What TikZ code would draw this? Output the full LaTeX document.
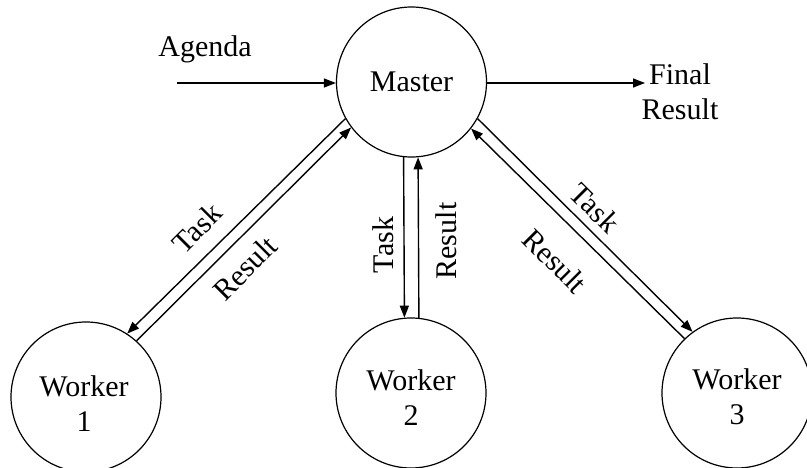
\documentclass[tikz,border=0pt]{standalone}
\usepackage{fontspec}
\setmainfont{Liberation Serif}
\usetikzlibrary{arrows.meta}
\begin{document}
\begin{tikzpicture}[x=1pt,y=-1pt,
  every node/.style={font=\fontsize{30}{35}\selectfont},
  circ/.style={draw, circle, line width=1.2pt, minimum size=150pt, inner sep=0pt},
  txt/.style={inner sep=0pt, align=center},
  conn/.style={line width=1.4pt, -{Triangle[length=12pt,width=9pt]}},
]
\useasboundingbox (0,0) rectangle (807,468);
\fill[white] (0,0) rectangle (807,468);
\node[circ] (m) at (411.5,82) {Master};
\node[circ] (w1) at (86,397) {};
\node[circ] (w2) at (411,393) {};
\node[circ] (w3) at (737,393) {};
\node[txt] (w1t) at (84,404) {Worker\\1};
\node[txt] (w2t) at (411,398) {Worker\\2};
\node[txt] (w3t) at (737,397) {Worker\\3};

\node[txt] (agenda) at (205,49) {Agenda};
\coordinate (ain) at (177,83);
\draw[conn] (ain) -- (m.west |- ain);
\node[txt] (final) at (680,92) {Final\\Result};
\coordinate (fout) at (645,83);
\draw[conn] (m.east |- fout) -- (fout);

% worker 1
\draw[conn] (m.209) -- (w1.57);
\draw[conn] (w1.48) -- (m.217);
\node[txt, rotate=45] (t1) at (197,228) {Task};
\node[txt, rotate=45] (r1) at (245,268) {Result};

% worker 2
\draw[conn] (m.264.3) -- (w2.95.7);
\draw[conn] (w2.84.7) -- (m.275);
\node[txt, rotate=90] (t2) at (383,245) {Task};
\node[txt, rotate=90] (r2) at (446,241) {Result};

% worker 3
\draw[conn] (m.331.6) -- (w3.126.5);
\draw[conn] (w3.134) -- (m.322);
\node[txt, rotate=-45] (t3) at (595,208) {Task};
\node[txt, rotate=-45] (r3) at (555,261) {Result};
\end{tikzpicture}
\end{document}
